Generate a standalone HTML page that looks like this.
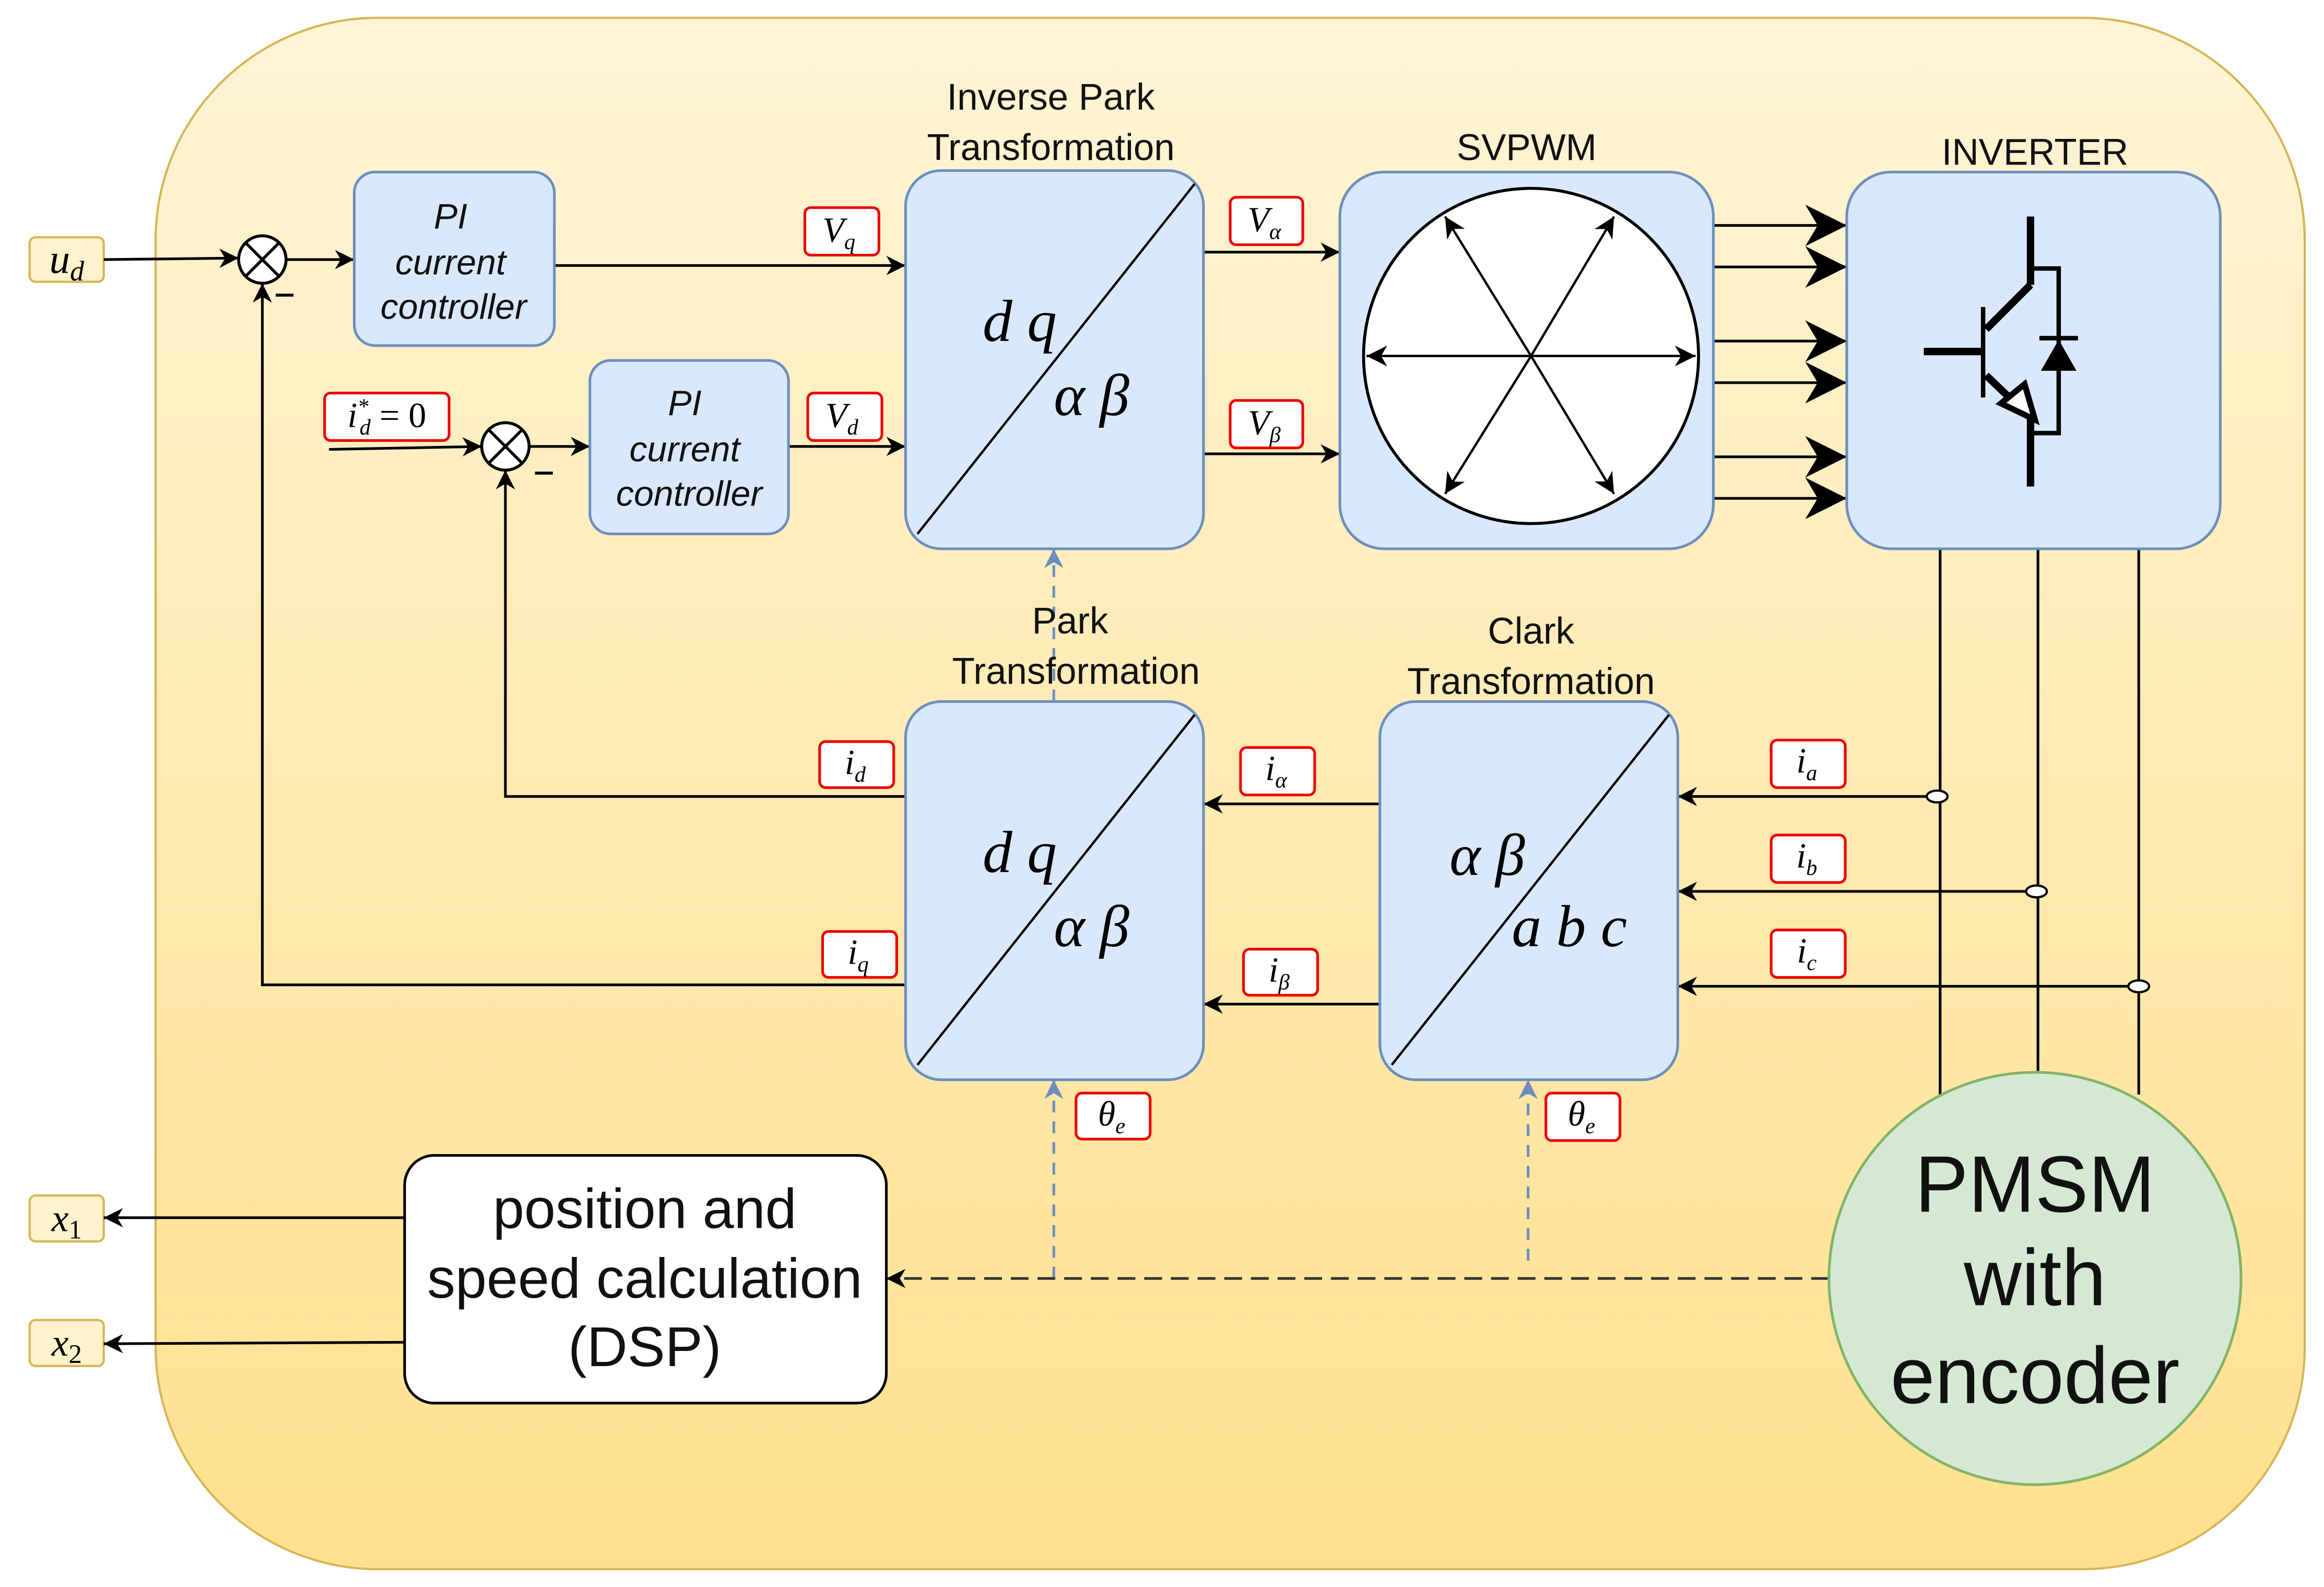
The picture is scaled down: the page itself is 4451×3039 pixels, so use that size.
<!DOCTYPE html>
<html><head><meta charset="utf-8"><style>
html,body{margin:0;padding:0;background:#fff}
svg{display:block}
.t{font-family:"Liberation Sans",sans-serif;fill:#111}
.m{font-family:"Liberation Serif",serif;font-style:italic;fill:#000}
</style></head><body>
<svg width="4451" height="3039" viewBox="0 0 1568 1070" preserveAspectRatio="none" xmlns="http://www.w3.org/2000/svg">
<defs>
<linearGradient id="bg" x1="0" y1="0" x2="0" y2="1"><stop offset="0" stop-color="#fff4d6"/><stop offset="1" stop-color="#ffe08e"/></linearGradient>
<marker id="a" viewBox="0 0 10 10" refX="10" refY="5" markerWidth="14" markerHeight="14" markerUnits="userSpaceOnUse" orient="auto"><path d="M0,0 L10,5 L0,10 L3,5 Z" fill="#000"/></marker>
<marker id="A" viewBox="0 0 10 10" refX="10" refY="5" markerWidth="13" markerHeight="13" markerUnits="userSpaceOnUse" orient="auto"><path d="M0,0 L10,5 L0,10 L3,5 Z" fill="#000"/></marker>
<marker id="B" viewBox="0 0 10 10" refX="10" refY="5" markerWidth="40" markerHeight="28" markerUnits="userSpaceOnUse" orient="auto"><path d="M0,0 L10,5 L0,10 L3,5 Z" fill="#000"/></marker>
<marker id="g" viewBox="0 0 10 10" refX="10" refY="5" markerWidth="13" markerHeight="13" markerUnits="userSpaceOnUse" orient="auto"><path d="M0,0 L10,5 L0,10 L3,5 Z" fill="#6c8ebf"/></marker>
</defs>
<rect x="105" y="12" width="1450" height="1046" rx="150" fill="url(#bg)" stroke="#d6b656" stroke-width="1.5"/>

<rect x="20" y="160" width="50" height="30" rx="4" fill="#fff2cc" stroke="#d6b656" stroke-width="1.5"/>
<text x="45" y="184" class="m" font-size="28" text-anchor="middle">u<tspan font-size="19" dy="5">d</tspan></text>
<rect x="20" y="806" width="50" height="31" rx="4" fill="#fff2cc" stroke="#d6b656" stroke-width="1.5"/>
<text x="45" y="830" class="m" font-size="26" text-anchor="middle">x<tspan font-size="18" dy="5" font-style="normal">1</tspan></text>
<rect x="20" y="890" width="50" height="31" rx="4" fill="#fff2cc" stroke="#d6b656" stroke-width="1.5"/>
<text x="45" y="914" class="m" font-size="26" text-anchor="middle">x<tspan font-size="18" dy="5" font-style="normal">2</tspan></text>

<g stroke="#000" stroke-width="1.8" fill="none">
<line x1="70" y1="175" x2="161" y2="174" marker-end="url(#A)"/>
<line x1="193" y1="175" x2="239" y2="175" marker-end="url(#A)"/>
<line x1="222" y1="303" x2="325" y2="301" marker-end="url(#A)"/>
<line x1="357" y1="301" x2="398" y2="301" marker-end="url(#A)"/>
<line x1="374" y1="179" x2="611" y2="179" marker-end="url(#A)"/>
<line x1="532" y1="301" x2="611" y2="301" marker-end="url(#A)"/>
<line x1="812" y1="170" x2="904" y2="170" marker-end="url(#A)"/>
<line x1="812" y1="306" x2="904" y2="306" marker-end="url(#A)"/>
<polyline points="611,537 341,537 341,317" marker-end="url(#A)"/>
<polyline points="611,664 177,664 177,191" marker-end="url(#A)"/>
<line x1="931" y1="542" x2="812" y2="542" marker-end="url(#A)"/>
<line x1="931" y1="677" x2="812" y2="677" marker-end="url(#A)"/>
<line x1="1307" y1="537" x2="1132" y2="537" marker-end="url(#A)"/>
<line x1="1374" y1="601" x2="1132" y2="601" marker-end="url(#A)"/>
<line x1="1443" y1="665" x2="1132" y2="665" marker-end="url(#A)"/>
<line x1="1309" y1="370" x2="1309" y2="738"/>
<line x1="1375" y1="370" x2="1375" y2="722"/>
<line x1="1443" y1="370" x2="1443" y2="738"/>
<line x1="273" y1="821" x2="70" y2="821" marker-end="url(#A)"/>
<line x1="273" y1="905" x2="70" y2="906" marker-end="url(#A)"/>
<line x1="1156" y1="152" x2="1246" y2="152" marker-end="url(#B)"/>
<line x1="1156" y1="180" x2="1246" y2="180" marker-end="url(#B)"/>
<line x1="1156" y1="230" x2="1246" y2="230" marker-end="url(#B)"/>
<line x1="1156" y1="258" x2="1246" y2="258" marker-end="url(#B)"/>
<line x1="1156" y1="308" x2="1246" y2="308" marker-end="url(#B)"/>
<line x1="1156" y1="336" x2="1246" y2="336" marker-end="url(#B)"/>
</g>
<g fill="#fff" stroke="#000" stroke-width="1.5">
<ellipse cx="1307" cy="537" rx="7" ry="4"/><ellipse cx="1374" cy="601" rx="7" ry="4"/><ellipse cx="1443" cy="665" rx="7" ry="4"/>
</g>
<g stroke="#6c8ebf" stroke-width="1.8" fill="none" stroke-dasharray="8,6">
<line x1="711" y1="862" x2="711" y2="728" marker-end="url(#g)"/>
<line x1="1031" y1="850" x2="1031" y2="728" marker-end="url(#g)"/>
<line x1="711" y1="473" x2="711" y2="370" marker-end="url(#g)"/>
</g>
<line x1="1234" y1="862" x2="598" y2="862" stroke="#333" stroke-width="1.8" stroke-dasharray="12,6" marker-end="url(#A)"/>

<g stroke="#000" stroke-width="2" fill="#fff">
<circle cx="177" cy="175" r="16"/><line x1="166" y1="164" x2="188" y2="186"/><line x1="188" y1="164" x2="166" y2="186"/>
<circle cx="341" cy="301" r="16"/><line x1="330" y1="290" x2="352" y2="312"/><line x1="352" y1="290" x2="330" y2="312"/>
<line x1="186" y1="199" x2="198" y2="199"/><line x1="361" y1="319" x2="373" y2="319"/>
</g>

<g fill="#dae8fc" stroke="#6c8ebf" stroke-width="1.8">
<rect x="239" y="116" width="135" height="117" rx="14"/>
<rect x="398" y="243" width="134" height="117" rx="14"/>
<rect x="611" y="115" width="201" height="255" rx="24"/>
<rect x="904" y="116" width="252" height="254" rx="30"/>
<rect x="1246" y="116" width="252" height="254" rx="30"/>
<rect x="611" y="473" width="201" height="255" rx="24"/>
<rect x="931" y="473" width="201" height="255" rx="24"/>
</g>
<g class="t" font-size="24" font-style="italic" text-anchor="middle">
<text x="304" y="154">PI</text><text x="304" y="185">current</text><text x="306" y="215">controller</text>
<text x="462" y="280">PI</text><text x="462" y="311">current</text><text x="465" y="341">controller</text>
</g>
<g class="t" font-size="25" text-anchor="middle">
<text x="709" y="74">Inverse Park</text><text x="709" y="108">Transformation</text>
<text x="1030" y="108">SVPWM</text>
<text x="1373" y="111">INVERTER</text>
<text x="722" y="427">Park</text><text x="726" y="461">Transformation</text>
<text x="1033" y="434">Clark</text><text x="1033" y="468">Transformation</text>
</g>
<g stroke="#000" stroke-width="1.6">
<line x1="619" y1="360" x2="806" y2="124"/>
<line x1="619" y1="718" x2="806" y2="482"/>
<line x1="939" y1="718" x2="1126" y2="482"/>
</g>
<g class="m" font-size="40">
<text x="663" y="230">d q</text><text x="711" y="280">α β</text>
<text x="663" y="588">d q</text><text x="711" y="638">α β</text>
<text x="978" y="590">α β</text><text x="1020" y="638">a b c</text>
</g>
<circle cx="1033" cy="240" r="113" fill="#fff" stroke="#000" stroke-width="2"/>
<g stroke="#000" stroke-width="1.6">
<line x1="1033" y1="240" x2="1144" y2="240" marker-end="url(#a)"/>
<line x1="1033" y1="240" x2="922" y2="240" marker-end="url(#a)"/>
<line x1="1033" y1="240" x2="975" y2="146" marker-end="url(#a)"/>
<line x1="1033" y1="240" x2="1089" y2="146" marker-end="url(#a)"/>
<line x1="1033" y1="240" x2="975" y2="333" marker-end="url(#a)"/>
<line x1="1033" y1="240" x2="1089" y2="333" marker-end="url(#a)"/>
</g>
<g stroke="#000" fill="none">
<line x1="1370" y1="146" x2="1370" y2="192" stroke-width="5"/>
<line x1="1370" y1="192" x2="1340" y2="222" stroke-width="5"/>
<line x1="1338" y1="207" x2="1338" y2="268" stroke-width="3"/>
<line x1="1298" y1="237" x2="1338" y2="237" stroke-width="5"/>
<line x1="1340" y1="253" x2="1365" y2="277" stroke-width="5"/>
<line x1="1370" y1="280" x2="1370" y2="328" stroke-width="5"/>
<polyline points="1370,181 1389,181 1389,292 1370,292" stroke-width="3"/>
<line x1="1376" y1="228" x2="1402" y2="228" stroke-width="3"/>
</g>
<polygon points="1389,229 1377,250 1401,250" fill="#000"/>
<polygon points="1373,283 1350,272 1366,259" fill="#fff" stroke="#000" stroke-width="4"/>

<circle cx="1373" cy="862" r="139" fill="#d5e8d4" stroke="#82b366" stroke-width="1.8"/>
<g class="t" font-size="54" text-anchor="middle"><text x="1373" y="817">PMSM</text><text x="1373" y="880">with</text><text x="1373" y="946">encoder</text></g>
<rect x="273" y="779" width="325" height="167" rx="20" fill="#fff" stroke="#000" stroke-width="1.8"/>
<g class="t" font-size="38" text-anchor="middle"><text x="435" y="828">position and</text><text x="435" y="875">speed calculation</text><text x="435" y="921">(DSP)</text></g>

<g fill="#fff" stroke="#e00" stroke-width="1.8">
<rect x="219" y="265" width="84" height="32" rx="4"/>
<rect x="543" y="140" width="50" height="32" rx="4"/>
<rect x="545" y="265" width="50" height="32" rx="4"/>
<rect x="830" y="133" width="49" height="32" rx="4"/>
<rect x="830" y="270" width="49" height="32" rx="4"/>
<rect x="553" y="500" width="50" height="31" rx="4"/>
<rect x="555" y="628" width="50" height="31" rx="4"/>
<rect x="837" y="504" width="50" height="32" rx="4"/>
<rect x="839" y="640" width="50" height="31" rx="4"/>
<rect x="1195" y="499" width="50" height="32" rx="4"/>
<rect x="1195" y="563" width="50" height="32" rx="4"/>
<rect x="1195" y="627" width="50" height="32" rx="4"/>
<rect x="726" y="737" width="50" height="31" rx="4"/>
<rect x="1043" y="737" width="50" height="32" rx="4"/>
</g>
<g class="m" font-size="24" text-anchor="middle">
<text x="261" y="288">i<tspan font-size="15" dy="-9">*</tspan><tspan font-size="15" dx="-6" dy="14">d</tspan><tspan font-style="normal" font-size="24" dy="-5"> = 0</tspan></text>
<text x="566" y="163">V<tspan font-size="15" dy="5">q</tspan></text>
<text x="568" y="288">V<tspan font-size="15" dy="5">d</tspan></text>
<text x="853" y="156">V<tspan font-size="15" dy="5">α</tspan></text>
<text x="853" y="293">V<tspan font-size="15" dy="5">β</tspan></text>
<text x="577" y="522">i<tspan font-size="15" dy="5">d</tspan></text>
<text x="579" y="650">i<tspan font-size="15" dy="5">q</tspan></text>
<text x="861" y="526">i<tspan font-size="15" dy="5">α</tspan></text>
<text x="863" y="662">i<tspan font-size="15" dy="5">β</tspan></text>
<text x="1219" y="521">i<tspan font-size="15" dy="5">a</tspan></text>
<text x="1219" y="585">i<tspan font-size="15" dy="5">b</tspan></text>
<text x="1219" y="649">i<tspan font-size="15" dy="5">c</tspan></text>
<text x="750" y="759">θ<tspan font-size="15" dy="5">e</tspan></text>
<text x="1067" y="759">θ<tspan font-size="15" dy="5">e</tspan></text>
</g>
</svg>
</body></html>
